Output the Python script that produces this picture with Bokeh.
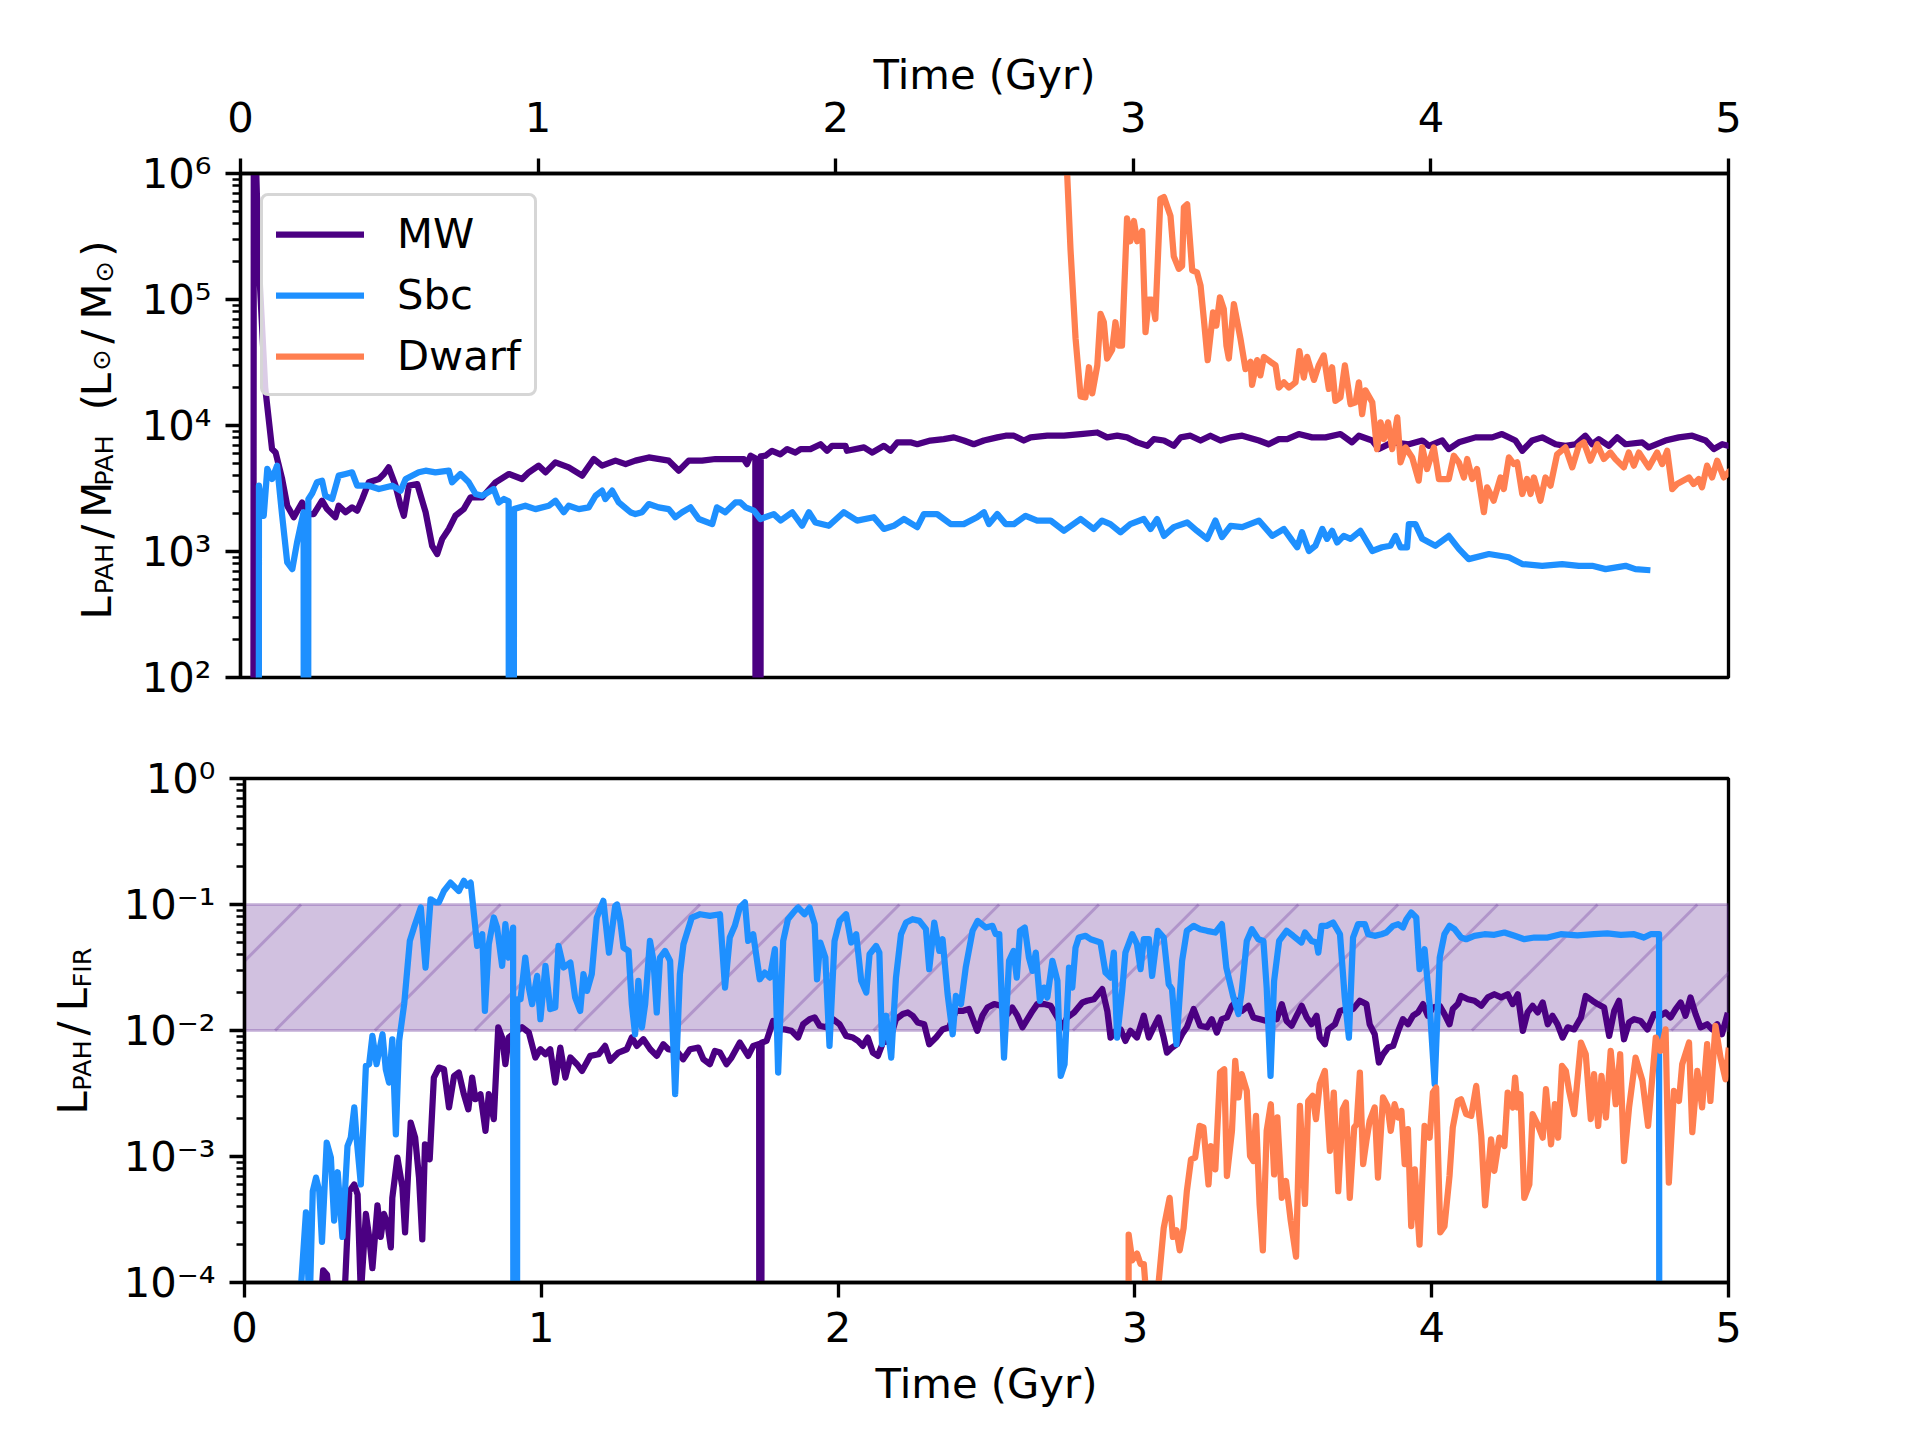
import math
from bokeh.plotting import figure
from bokeh.models import Range1d, FixedTicker, CustomJSTickFormatter, BoxAnnotation
from bokeh.layouts import column, row
from bokeh.embed import file_html
from bokeh.resources import INLINE
from bokeh.core.properties import value

# ---------------- data (time in Gyr, values) ----------------
series_names = ["MW", "Sbc", "Dwarf"]
ZERO = 1e-30  # snapshots where the quantity drops to zero (drawn off the bottom of the log axis)

# Top panel: L_PAH / M_PAH  (L_sun / M_sun)
mw_top = [
    (0.035, ZERO), (0.045, 3e7), (0.053, 1.0e6), (0.062, 1.85e5), (0.083, 2.0e4), (0.106, 6500),
    (0.118, 6100), (0.140, 3760), (0.157, 2310), (0.179, 1870), (0.207, 2450), (0.224, 1980),
    (0.246, 1980), (0.274, 2530), (0.291, 2170), (0.319, 1870), (0.330, 2310), (0.353, 2050),
    (0.375, 2240), (0.392, 2110), (0.409, 2610), (0.431, 3540), (0.465, 3760), (0.482, 4120),
    (0.498, 4650), (0.521, 3330), (0.538, 2310), (0.549, 1920), (0.566, 3330), (0.594, 3430),
    (0.622, 2050), (0.644, 1110), (0.661, 955), (0.678, 1260), (0.700, 1510), (0.722, 1920),
    (0.750, 2170), (0.773, 2690), (0.812, 2690), (0.857, 3540), (0.902, 4120), (0.946, 3760),
    (0.969, 4250), (1.002, 4800), (1.025, 4250), (1.058, 5100), (1.103, 4650), (1.148, 4000),
    (1.187, 5420), (1.215, 4800), (1.260, 5260), (1.294, 4940), (1.327, 5260), (1.372, 5580),
    (1.439, 5260), (1.473, 4380), (1.506, 5260), (1.551, 5260), (1.596, 5420), (1.663, 5420),
    (1.691, 5420), (1.702, 4940), (1.714, 5760), (1.730, 5500), (1.739, ZERO), (1.748, 5700),
    (1.764, 5760), (1.786, 6300), (1.814, 5900), (1.837, 6500), (1.865, 6100), (1.882, 6500),
    (1.915, 6500), (1.949, 7100), (1.971, 6300), (1.988, 6900), (2.033, 6900), (2.038, 6300),
    (2.095, 6700), (2.123, 6100), (2.162, 6900), (2.184, 6300), (2.207, 7350), (2.251, 7350),
    (2.274, 7100), (2.318, 7600), (2.363, 7800), (2.397, 8050), (2.430, 7600), (2.464, 7100),
    (2.498, 7600), (2.543, 8050), (2.571, 8300), (2.599, 8300), (2.632, 7600), (2.655, 8050),
    (2.711, 8300), (2.767, 8300), (2.823, 8550), (2.879, 8800), (2.912, 8050), (2.946, 8300),
    (2.979, 8050), (3.013, 7350), (3.047, 6900), (3.069, 7800), (3.103, 7600), (3.136, 6900),
    (3.159, 8050), (3.192, 8300), (3.226, 7600), (3.259, 8300), (3.293, 7600), (3.327, 8050),
    (3.366, 8300), (3.422, 7600), (3.455, 7100), (3.489, 7800), (3.517, 7800), (3.556, 8550),
    (3.601, 8050), (3.646, 8050), (3.696, 8550), (3.735, 7350), (3.758, 8300), (3.803, 7600),
    (3.825, 6500), (3.870, 7350), (3.926, 7100), (3.971, 7600), (3.993, 6900), (4.038, 7600),
    (4.060, 6500), (4.094, 7350), (4.150, 8050), (4.206, 8050), (4.239, 8550), (4.284, 7600),
    (4.307, 6300), (4.340, 7600), (4.374, 8050), (4.419, 7100), (4.452, 6900), (4.486, 7100),
    (4.519, 8300), (4.542, 7100), (4.564, 7800), (4.598, 6900), (4.626, 8050), (4.654, 7100),
    (4.710, 7350), (4.732, 6700), (4.788, 7600), (4.833, 8050), (4.878, 8300), (4.923, 7600),
    (4.951, 6500), (4.979, 7100), (5.000, 6900),
]

sbc_top = [
    (0.055, ZERO), (0.062, 3330), (0.078, 1920), (0.090, 4520), (0.106, 3760), (0.123, 4800),
    (0.140, 1920), (0.157, 820), (0.174, 725), (0.190, 1180), (0.212, 2050), (0.220, ZERO),
    (0.228, 2600), (0.241, 2900), (0.257, 3540), (0.274, 3650), (0.285, 2770), (0.308, 2610),
    (0.330, 4000), (0.353, 4120), (0.375, 4250), (0.392, 3330), (0.431, 3330), (0.465, 3130),
    (0.510, 3330), (0.538, 3040), (0.555, 3760), (0.599, 4250), (0.622, 4380), (0.655, 4250),
    (0.700, 4380), (0.711, 3540), (0.739, 4120), (0.767, 3540), (0.790, 2860), (0.812, 2770),
    (0.851, 3130), (0.868, 2450), (0.885, 2610), (0.901, 2500), (0.910, ZERO), (0.919, 2170),
    (0.957, 2310), (0.991, 2170), (1.036, 2310), (1.058, 2530), (1.086, 2050), (1.103, 2310),
    (1.137, 2170), (1.170, 2240), (1.193, 2770), (1.215, 3040), (1.226, 2610), (1.249, 3040),
    (1.271, 2450), (1.310, 2050), (1.327, 1980), (1.349, 2050), (1.372, 2380), (1.405, 2240),
    (1.439, 2170), (1.461, 1870), (1.484, 2050), (1.512, 2240), (1.540, 1810), (1.585, 1650),
    (1.601, 2240), (1.629, 2050), (1.663, 2450), (1.680, 2450), (1.697, 2240), (1.725, 2110),
    (1.747, 1810), (1.792, 1980), (1.815, 1760), (1.854, 2050), (1.887, 1600), (1.910, 2050),
    (1.932, 1700), (1.977, 1600), (2.027, 2050), (2.072, 1760), (2.128, 1870), (2.162, 1510),
    (2.195, 1600), (2.229, 1810), (2.274, 1560), (2.296, 1980), (2.341, 1980), (2.386, 1650),
    (2.430, 1650), (2.475, 1870), (2.498, 2050), (2.515, 1650), (2.543, 1980), (2.571, 1650),
    (2.599, 1650), (2.638, 1920), (2.677, 1760), (2.722, 1760), (2.767, 1460), (2.823, 1810),
    (2.867, 1510), (2.895, 1760), (2.923, 1650), (2.957, 1420), (2.990, 1650), (3.035, 1810),
    (3.058, 1510), (3.080, 1810), (3.103, 1330), (3.136, 1560), (3.181, 1700), (3.214, 1460),
    (3.248, 1260), (3.276, 1760), (3.298, 1300), (3.327, 1600), (3.366, 1560), (3.422, 1760),
    (3.467, 1330), (3.506, 1510), (3.534, 1220), (3.551, 1080), (3.567, 1420), (3.590, 1010),
    (3.612, 1110), (3.635, 1510), (3.651, 1260), (3.668, 1460), (3.685, 1180), (3.707, 1330),
    (3.730, 1260), (3.763, 1460), (3.803, 1010), (3.836, 1080), (3.864, 1110), (3.881, 1330),
    (3.898, 1080), (3.920, 1080), (3.926, 1650), (3.948, 1650), (3.971, 1260), (4.015, 1110),
    (4.060, 1330), (4.094, 1050), (4.127, 870), (4.195, 955), (4.262, 900), (4.307, 795),
    (4.374, 770), (4.441, 795), (4.497, 770), (4.542, 770), (4.587, 725), (4.654, 770),
    (4.687, 725), (4.727, 713),
]

dwarf_top = [
    (2.770, 3e6), (2.778, 9.6e5), (2.789, 2.5e5), (2.806, 4.9e4), (2.823, 1.7e4), (2.839, 1.67e4),
    (2.851, 2.9e4), (2.862, 1.8e4), (2.879, 3.0e4), (2.890, 7.7e4), (2.901, 6.6e4), (2.912, 3.4e4),
    (2.929, 4.0e4), (2.940, 6.6e4), (2.951, 4.3e4), (2.962, 4.3e4), (2.979, 4.4e5), (2.990, 2.9e5),
    (3.002, 4.2e5), (3.013, 2.9e5), (3.030, 3.5e5), (3.041, 5.5e4), (3.052, 1.0e5), (3.063, 1.0e5),
    (3.074, 7.0e4), (3.091, 6.3e5), (3.103, 6.5e5), (3.125, 4.6e5), (3.136, 2.2e5), (3.153, 1.75e5),
    (3.164, 1.85e5), (3.170, 5.4e5), (3.181, 5.7e5), (3.198, 1.7e5), (3.214, 1.64e5), (3.226, 1.29e5),
    (3.237, 7.0e4), (3.250, 3.3e4), (3.268, 7.9e4), (3.279, 6.2e4), (3.291, 1.04e5), (3.304, 8.4e4),
    (3.313, 4.3e4), (3.321, 3.4e4), (3.338, 9.2e4), (3.360, 4.9e4), (3.377, 2.8e4), (3.394, 3.2e4),
    (3.399, 2.1e4), (3.416, 3.3e4), (3.427, 2.5e4), (3.439, 3.5e4), (3.461, 3.2e4), (3.478, 3.0e4),
    (3.489, 2.0e4), (3.506, 2.2e4), (3.523, 2.0e4), (3.545, 2.2e4), (3.558, 3.9e4), (3.573, 2.4e4),
    (3.584, 3.5e4), (3.607, 2.3e4), (3.623, 3.0e4), (3.640, 3.6e4), (3.657, 1.95e4), (3.668, 2.9e4),
    (3.679, 1.57e4), (3.696, 1.67e4), (3.711, 3.0e4), (3.730, 1.48e4), (3.747, 1.53e4), (3.758, 2.2e4),
    (3.769, 1.23e4), (3.780, 1.9e4), (3.803, 1.53e4), (3.819, 6500), (3.831, 1.06e4), (3.842, 7800),
    (3.856, 1.06e4), (3.870, 6500), (3.887, 1.16e4), (3.898, 5100), (3.915, 6700), (3.937, 5580),
    (3.959, 3650), (3.971, 6700), (3.987, 4520), (4.010, 6700), (4.027, 3760), (4.060, 3760),
    (4.077, 5760), (4.094, 5100), (4.111, 3870), (4.122, 5420), (4.139, 3760), (4.155, 4520),
    (4.178, 2050), (4.189, 3230), (4.211, 2530), (4.234, 3870), (4.245, 3130), (4.262, 5580),
    (4.279, 4940), (4.290, 5100), (4.307, 2860), (4.323, 3760), (4.335, 2860), (4.346, 3870),
    (4.368, 2530), (4.385, 3870), (4.402, 3330), (4.424, 5900), (4.452, 6700), (4.475, 4650),
    (4.497, 6900), (4.514, 7350), (4.536, 5260), (4.559, 7100), (4.581, 5420), (4.603, 6100),
    (4.620, 5420), (4.648, 4650), (4.665, 6100), (4.682, 4800), (4.699, 6100), (4.732, 4650),
    (4.760, 6100), (4.777, 4940), (4.794, 6300), (4.811, 3130), (4.827, 3430), (4.867, 3870),
    (4.883, 3430), (4.900, 3760), (4.911, 3230), (4.928, 4800), (4.945, 3870), (4.962, 5260),
    (4.984, 3870), (5.000, 4250),
]

# Bottom panel: L_PAH / L_FIR
mw_bottom = [
    (0.255, 6e-5), (0.265, 1.25e-4), (0.278, 1.15e-4), (0.290, 6e-5), (0.335, 6e-5), (0.353, 5.3e-4),
    (0.370, 6.0e-4), (0.381, 5.0e-4), (0.392, 8e-5), (0.409, 3.5e-4), (0.420, 2.3e-4), (0.431, 1.3e-4),
    (0.448, 4.1e-4), (0.459, 2.3e-4), (0.470, 3.5e-4), (0.482, 2.9e-4), (0.493, 1.9e-4), (0.498, 4.7e-4),
    (0.515, 9.8e-4), (0.532, 5.7e-4), (0.541, 2.5e-4), (0.560, 1.86e-3), (0.575, 1.41e-3), (0.588, 6.8e-4),
    (0.599, 2.2e-4), (0.608, 1.25e-3), (0.624, 9.5e-4), (0.638, 4.23e-3), (0.655, 5.08e-3), (0.672, 4.93e-3),
    (0.689, 2.45e-3), (0.706, 4.36e-3), (0.722, 4.64e-3), (0.739, 3.12e-3), (0.754, 2.37e-3), (0.767, 4.23e-3),
    (0.778, 2.85e-3), (0.795, 3.12e-3), (0.812, 1.6e-3), (0.823, 3.12e-3), (0.840, 1.98e-3), (0.855, 1.06e-2),
    (0.868, 8.79e-3), (0.879, 5.4e-3), (0.890, 8.79e-3), (0.935, 1.06e-2), (0.958, 9.63e-3), (0.980, 6.1e-3),
    (0.997, 7.1e-3), (1.014, 6.48e-3), (1.030, 7.1e-3), (1.047, 3.86e-3), (1.064, 7.32e-3), (1.081, 4.23e-3),
    (1.098, 6.1e-3), (1.120, 5.4e-3), (1.137, 4.78e-3), (1.165, 6.29e-3), (1.193, 6.48e-3), (1.215, 7.55e-3),
    (1.232, 5.74e-3), (1.260, 6.68e-3), (1.288, 7.1e-3), (1.305, 8.79e-3), (1.322, 7.55e-3), (1.344, 8.52e-3),
    (1.367, 7.1e-3), (1.389, 6.29e-3), (1.411, 7.78e-3), (1.428, 7.1e-3), (1.456, 6.89e-3), (1.478, 5.91e-3),
    (1.501, 7.1e-3), (1.529, 7.32e-3), (1.546, 5.91e-3), (1.568, 5.4e-3), (1.585, 6.89e-3), (1.602, 6.68e-3),
    (1.624, 5.4e-3), (1.641, 6.1e-3), (1.669, 8.02e-3), (1.697, 6.29e-3), (1.714, 7.55e-3), (1.734, 7.8e-3),
    (1.738, ZERO), (1.742, 8.0e-3), (1.759, 8.27e-3), (1.781, 1.19e-2), (1.803, 1.02e-2), (1.820, 1.02e-2),
    (1.843, 9.93e-3), (1.865, 8.79e-3), (1.882, 1.12e-2), (1.904, 1.23e-2), (1.921, 1.27e-2), (1.938, 1.09e-2),
    (1.960, 1.06e-2), (1.983, 1.23e-2), (2.005, 1.12e-2), (2.027, 9.06e-3), (2.050, 8.79e-3), (2.067, 8.27e-3),
    (2.083, 7.55e-3), (2.100, 8.79e-3), (2.117, 6.68e-3), (2.134, 6.29e-3), (2.151, 8.02e-3), (2.173, 8.27e-3),
    (2.195, 1.23e-2), (2.218, 1.35e-2), (2.235, 1.39e-2), (2.251, 1.31e-2), (2.268, 1.16e-2), (2.290, 1.12e-2),
    (2.307, 7.78e-3), (2.330, 8.79e-3), (2.352, 1.02e-2), (2.374, 1.06e-2), (2.397, 1.43e-2), (2.419, 1.43e-2),
    (2.441, 1.48e-2), (2.469, 9.93e-3), (2.486, 1.31e-2), (2.503, 1.52e-2), (2.526, 1.62e-2), (2.548, 1.57e-2),
    (2.571, 1.35e-2), (2.587, 1.52e-2), (2.604, 1.31e-2), (2.621, 1.06e-2), (2.638, 1.23e-2), (2.655, 1.43e-2),
    (2.671, 1.62e-2), (2.694, 1.62e-2), (2.716, 1.57e-2), (2.739, 1.27e-2), (2.755, 1.06e-2), (2.772, 1.27e-2),
    (2.795, 1.39e-2), (2.823, 1.67e-2), (2.839, 1.72e-2), (2.862, 1.77e-2), (2.890, 2.13e-2), (2.907, 1.43e-2),
    (2.918, 8.79e-3), (2.935, 9.93e-3), (2.952, 1.02e-2), (2.968, 8.27e-3), (2.985, 9.93e-3), (3.007, 8.79e-3),
    (3.030, 1.31e-2), (3.047, 8.79e-3), (3.063, 1.06e-2), (3.080, 1.27e-2), (3.097, 8.79e-3), (3.108, 6.68e-3),
    (3.125, 7.32e-3), (3.142, 7.78e-3), (3.159, 9.34e-3), (3.175, 1.06e-2), (3.198, 1.48e-2), (3.220, 1.09e-2),
    (3.243, 1.06e-2), (3.259, 1.23e-2), (3.276, 9.63e-3), (3.293, 1.23e-2), (3.310, 1.27e-2), (3.327, 1.57e-2),
    (3.343, 1.72e-2), (3.360, 1.43e-2), (3.383, 1.57e-2), (3.399, 1.27e-2), (3.422, 1.23e-2), (3.444, 1.19e-2),
    (3.467, 1.35e-2), (3.478, 1.23e-2), (3.495, 1.62e-2), (3.511, 1.19e-2), (3.528, 1.09e-2), (3.545, 1.31e-2),
    (3.562, 1.57e-2), (3.579, 1.27e-2), (3.595, 1.12e-2), (3.612, 1.31e-2), (3.623, 8.79e-3), (3.640, 7.78e-3),
    (3.651, 1.02e-2), (3.674, 1.12e-2), (3.691, 1.43e-2), (3.713, 1.48e-2), (3.735, 1.48e-2), (3.758, 1.72e-2),
    (3.780, 1.62e-2), (3.791, 1.12e-2), (3.808, 9.34e-3), (3.822, 5.57e-3), (3.836, 6.48e-3), (3.853, 7.32e-3),
    (3.870, 7.55e-3), (3.887, 9.93e-3), (3.903, 1.23e-2), (3.920, 1.12e-2), (3.937, 1.31e-2), (3.954, 1.39e-2),
    (3.971, 1.62e-2), (3.987, 1.31e-2), (4.004, 1.52e-2), (4.027, 1.57e-2), (4.043, 1.35e-2), (4.060, 1.12e-2),
    (4.071, 1.48e-2), (4.088, 1.62e-2), (4.099, 1.88e-2), (4.122, 1.77e-2), (4.144, 1.72e-2), (4.167, 1.57e-2),
    (4.189, 1.83e-2), (4.211, 1.94e-2), (4.234, 1.83e-2), (4.256, 1.94e-2), (4.273, 1.62e-2), (4.290, 1.94e-2),
    (4.307, 9.93e-3), (4.323, 1.39e-2), (4.340, 1.57e-2), (4.357, 1.39e-2), (4.374, 1.67e-2), (4.391, 1.12e-2),
    (4.407, 1.31e-2), (4.424, 1.12e-2), (4.441, 8.79e-3), (4.458, 1.06e-2), (4.480, 1.02e-2), (4.503, 1.27e-2),
    (4.519, 1.88e-2), (4.542, 1.72e-2), (4.559, 1.62e-2), (4.581, 1.52e-2), (4.598, 9.06e-3), (4.615, 1.43e-2),
    (4.631, 1.72e-2), (4.648, 8.52e-3), (4.665, 1.16e-2), (4.682, 1.23e-2), (4.704, 1.19e-2), (4.727, 1.02e-2),
    (4.749, 1.35e-2), (4.771, 1.31e-2), (4.788, 1.39e-2), (4.805, 1.27e-2), (4.822, 1.48e-2), (4.839, 1.67e-2),
    (4.855, 1.31e-2), (4.872, 1.83e-2), (4.889, 1.35e-2), (4.906, 1.06e-2), (4.928, 1.12e-2), (4.945, 1.02e-2),
    (4.962, 1.12e-2), (4.978, 9.34e-3), (4.995, 1.31e-2),
]

sbc_bottom = [
    (0.185, 6e-5), (0.207, 3.6e-4), (0.219, 6e-5), (0.230, 5.3e-4), (0.241, 6.8e-4), (0.252, 5.3e-4),
    (0.261, 2.1e-4), (0.277, 1.29e-3), (0.291, 9.8e-4), (0.302, 3.1e-4), (0.314, 7.5e-4), (0.330, 2.3e-4),
    (0.347, 1.21e-3), (0.358, 1.41e-3), (0.370, 2.45e-3), (0.377, 1.46e-3), (0.392, 6.0e-4), (0.409, 5.24e-3),
    (0.420, 5.4e-3), (0.431, 9.06e-3), (0.445, 5.4e-3), (0.465, 9.34e-3), (0.476, 4.93e-3), (0.487, 3.86e-3),
    (0.498, 8.52e-3), (0.510, 1.5e-3), (0.521, 8.27e-3), (0.538, 1.62e-2), (0.557, 5.14e-2), (0.571, 6.56e-2),
    (0.594, 9.46e-2), (0.610, 3.16e-2), (0.627, 0.110), (0.644, 0.104), (0.655, 0.104), (0.672, 0.128),
    (0.694, 0.149), (0.722, 0.128), (0.739, 0.154), (0.750, 0.141), (0.762, 0.149), (0.784, 4.69e-2),
    (0.801, 5.81e-2), (0.810, 1.43e-2), (0.823, 4.84e-2), (0.840, 7.88e-2), (0.851, 6.56e-2), (0.868, 3.26e-2),
    (0.879, 6.98e-2), (0.890, 3.79e-2), (0.905, 6.56e-2), (0.912, ZERO), (0.919, 1.77e-2), (0.930, 1.77e-2),
    (0.946, 3.79e-2), (0.958, 2.19e-2), (0.969, 1.62e-2), (0.986, 2.71e-2), (0.997, 1.23e-2), (1.014, 3.26e-2),
    (1.030, 1.48e-2), (1.047, 1.52e-2), (1.058, 4.69e-2), (1.075, 3.16e-2), (1.098, 3.46e-2), (1.114, 1.83e-2),
    (1.131, 1.43e-2), (1.142, 2.80e-2), (1.154, 2.06e-2), (1.170, 2.80e-2), (1.187, 7.88e-2), (1.209, 0.107),
    (1.228, 4.15e-2), (1.249, 9.75e-2), (1.255, 0.100), (1.266, 7.41e-2), (1.277, 4.55e-2), (1.294, 4.28e-2),
    (1.305, 1.62e-2), (1.316, 9.34e-3), (1.327, 2.48e-2), (1.339, 1.06e-2), (1.350, 1.62e-2), (1.366, 5.14e-2),
    (1.378, 3.57e-2), (1.389, 1.39e-2), (1.400, 3.79e-2), (1.417, 4.28e-2), (1.434, 3.57e-2), (1.451, 3.12e-3),
    (1.467, 2.80e-2), (1.479, 4.84e-2), (1.507, 7.88e-2), (1.535, 8.37e-2), (1.568, 8.12e-2), (1.602, 8.37e-2),
    (1.619, 2.19e-2), (1.635, 5.47e-2), (1.652, 6.77e-2), (1.669, 9.46e-2), (1.686, 0.104), (1.697, 5.14e-2),
    (1.714, 5.81e-2), (1.736, 2.55e-2), (1.753, 2.88e-2), (1.770, 2.63e-2), (1.787, 4.42e-2), (1.798, 4.64e-3),
    (1.815, 5.14e-2), (1.831, 7.64e-2), (1.854, 8.90e-2), (1.865, 9.46e-2), (1.887, 8.37e-2), (1.904, 9.46e-2),
    (1.921, 6.98e-2), (1.929, 2.55e-2), (1.940, 4.99e-2), (1.957, 3.79e-2), (1.971, 7.55e-3), (1.988, 5.14e-2),
    (2.005, 7.41e-2), (2.027, 8.37e-2), (2.044, 4.99e-2), (2.061, 5.81e-2), (2.078, 2.48e-2), (2.095, 2.00e-2),
    (2.106, 4.03e-2), (2.128, 4.69e-2), (2.139, 4.15e-2), (2.148, 7.78e-3), (2.162, 1.31e-2), (2.179, 6.10e-3),
    (2.195, 2.63e-2), (2.212, 5.81e-2), (2.229, 7.19e-2), (2.251, 7.64e-2), (2.274, 7.41e-2), (2.296, 6.37e-2),
    (2.307, 3.07e-2), (2.324, 7.19e-2), (2.341, 4.28e-2), (2.352, 5.30e-2), (2.369, 1.94e-2), (2.386, 9.34e-3),
    (2.397, 1.88e-2), (2.414, 1.62e-2), (2.430, 3.16e-2), (2.453, 6.18e-2), (2.470, 7.41e-2), (2.498, 6.56e-2),
    (2.520, 6.77e-2), (2.531, 5.81e-2), (2.543, 5.81e-2), (2.559, 6.10e-3), (2.576, 3.57e-2), (2.591, 4.28e-2),
    (2.602, 2.63e-2), (2.613, 6.18e-2), (2.629, 6.56e-2), (2.643, 3.79e-2), (2.655, 2.97e-2), (2.666, 4.15e-2),
    (2.680, 1.72e-2), (2.694, 2.19e-2), (2.705, 1.83e-2), (2.722, 3.57e-2), (2.739, 2.48e-2), (2.750, 4.36e-3),
    (2.763, 5.40e-3), (2.778, 3.16e-2), (2.789, 2.19e-2), (2.800, 4.55e-2), (2.811, 5.47e-2), (2.834, 5.64e-2),
    (2.851, 5.30e-2), (2.884, 4.99e-2), (2.901, 2.88e-2), (2.918, 2.63e-2), (2.929, 4.15e-2), (2.940, 8.79e-3),
    (2.957, 2.06e-2), (2.968, 4.15e-2), (2.991, 5.81e-2), (3.007, 4.84e-2), (3.019, 3.07e-2), (3.030, 5.30e-2),
    (3.047, 5.30e-2), (3.058, 2.71e-2), (3.077, 6.18e-2), (3.097, 5.47e-2), (3.114, 2.33e-2), (3.125, 2.13e-2),
    (3.140, 7.78e-3), (3.159, 3.57e-2), (3.175, 6.18e-2), (3.198, 6.77e-2), (3.220, 6.37e-2), (3.243, 6.18e-2),
    (3.271, 5.99e-2), (3.293, 6.98e-2), (3.308, 3.16e-2), (3.332, 1.83e-2), (3.349, 1.35e-2), (3.360, 2.06e-2),
    (3.377, 5.14e-2), (3.394, 6.37e-2), (3.416, 5.30e-2), (3.433, 5.14e-2), (3.444, 2.19e-2), (3.457, 4.36e-3),
    (3.469, 2.48e-2), (3.486, 5.14e-2), (3.511, 6.18e-2), (3.533, 5.64e-2), (3.561, 4.99e-2), (3.573, 5.99e-2),
    (3.595, 5.14e-2), (3.612, 4.99e-2), (3.618, 4.15e-2), (3.629, 6.77e-2), (3.646, 6.77e-2), (3.668, 7.19e-2),
    (3.691, 5.81e-2), (3.707, 1.83e-2), (3.721, 8.79e-3), (3.735, 5.47e-2), (3.752, 6.98e-2), (3.775, 6.98e-2),
    (3.786, 5.81e-2), (3.808, 5.64e-2), (3.831, 5.81e-2), (3.847, 5.99e-2), (3.870, 6.77e-2), (3.887, 6.98e-2),
    (3.903, 6.56e-2), (3.915, 7.64e-2), (3.931, 8.63e-2), (3.948, 7.88e-2), (3.959, 3.07e-2), (3.976, 4.42e-2),
    (3.993, 1.62e-2), (4.010, 3.75e-3), (4.027, 3.79e-2), (4.043, 5.81e-2), (4.060, 6.77e-2), (4.077, 6.37e-2),
    (4.099, 5.47e-2), (4.116, 5.30e-2), (4.144, 5.64e-2), (4.178, 5.81e-2), (4.211, 5.75e-2), (4.245, 5.99e-2),
    (4.279, 5.64e-2), (4.312, 5.30e-2), (4.346, 5.47e-2), (4.391, 5.47e-2), (4.435, 5.81e-2), (4.491, 5.70e-2),
    (4.547, 5.81e-2), (4.592, 5.90e-2), (4.637, 5.75e-2), (4.682, 5.81e-2), (4.715, 5.47e-2), (4.738, 5.81e-2),
    (4.766, 5.81e-2), (4.772, ZERO),
]

dwarf_bottom = [
    (2.968, ZERO), (2.979, 2.4e-4), (2.991, 1.5e-4), (3.007, 1.7e-4), (3.019, 1.4e-4), (3.030, 1.4e-4),
    (3.045, 5e-5), (3.068, 5e-5), (3.097, 2.7e-4), (3.117, 4.7e-4), (3.128, 2.3e-4), (3.140, 2.6e-4),
    (3.151, 1.8e-4), (3.164, 2.7e-4), (3.175, 5.3e-4), (3.189, 9.5e-4), (3.203, 9.8e-4), (3.218, 1.75e-3),
    (3.231, 1.70e-3), (3.248, 6.0e-4), (3.256, 1.21e-3), (3.271, 7.9e-4), (3.287, 4.64e-3), (3.301, 4.93e-3),
    (3.310, 7.0e-4), (3.327, 1.6e-3), (3.338, 5.74e-3), (3.349, 2.94e-3), (3.360, 4.5e-3), (3.377, 3.32e-3),
    (3.388, 1.01e-3), (3.399, 9.2e-4), (3.408, 2.1e-3), (3.420, 4.2e-4), (3.431, 1.8e-4), (3.444, 1.6e-3),
    (3.458, 2.6e-3), (3.469, 7.2e-4), (3.480, 2.04e-3), (3.495, 4.7e-4), (3.509, 6.4e-4), (3.525, 3.1e-4),
    (3.543, 1.6e-4), (3.556, 2.52e-3), (3.573, 4.2e-4), (3.584, 2.76e-3), (3.599, 3.03e-3), (3.610, 1.98e-3),
    (3.623, 3.75e-3), (3.640, 4.78e-3), (3.657, 1.11e-3), (3.670, 3.22e-3), (3.685, 5.3e-4), (3.700, 2.37e-3),
    (3.711, 2.68e-3), (3.724, 4.7e-4), (3.739, 1.70e-3), (3.747, 1.80e-3), (3.758, 4.64e-3), (3.769, 8.7e-4),
    (3.780, 1.33e-3), (3.791, 1.92e-3), (3.808, 2.45e-3), (3.819, 6.8e-4), (3.836, 2.94e-3), (3.851, 2.52e-3),
    (3.862, 1.6e-3), (3.875, 2.6e-3), (3.887, 2.04e-3), (3.898, 2.3e-3), (3.909, 8.7e-4), (3.920, 1.65e-3),
    (3.931, 2.8e-4), (3.943, 7.9e-4), (3.959, 2.0e-4), (3.976, 1.75e-3), (3.993, 1.41e-3), (4.004, 3.22e-3),
    (4.015, 3.52e-3), (4.029, 2.5e-4), (4.043, 2.8e-4), (4.060, 7.0e-4), (4.071, 1.70e-3), (4.088, 2.76e-3),
    (4.099, 2.85e-3), (4.116, 2.17e-3), (4.133, 2.1e-3), (4.150, 3.63e-3), (4.167, 1.46e-3), (4.180, 4.1e-4),
    (4.200, 1.37e-3), (4.211, 7.7e-4), (4.228, 1.41e-3), (4.245, 1.21e-3), (4.256, 3.22e-3), (4.273, 2.45e-3),
    (4.281, 4.23e-3), (4.290, 2.45e-3), (4.299, 3.12e-3), (4.312, 4.7e-4), (4.329, 6.0e-4), (4.340, 2.17e-3),
    (4.357, 1.8e-3), (4.374, 1.41e-3), (4.385, 3.42e-3), (4.402, 1.25e-3), (4.415, 2.6e-3), (4.426, 1.41e-3),
    (4.439, 5.24e-3), (4.452, 4.78e-3), (4.463, 3.32e-3), (4.480, 2.17e-3), (4.503, 8.02e-3), (4.519, 6.48e-3),
    (4.536, 1.98e-3), (4.547, 4.5e-3), (4.561, 1.75e-3), (4.572, 4.36e-3), (4.587, 2.04e-3), (4.603, 6.89e-3),
    (4.620, 2.6e-3), (4.635, 6.48e-3), (4.648, 9.2e-4), (4.665, 2.45e-3), (4.687, 6.1e-3), (4.710, 4.0e-3),
    (4.729, 1.75e-3), (4.755, 8.79e-3), (4.771, 6.89e-3), (4.788, 1.02e-2), (4.799, 6.2e-4), (4.816, 3.32e-3),
    (4.833, 2.76e-3), (4.844, 5.4e-3), (4.867, 8.02e-3), (4.878, 1.56e-3), (4.895, 4.78e-3), (4.911, 2.45e-3),
    (4.928, 7.78e-3), (4.939, 2.76e-3), (4.956, 1.09e-2), (4.973, 6.1e-3), (4.990, 4.1e-3), (5.000, 6.9e-3),
]

x_ticks = [0, 1, 2, 3, 4, 5]
band_low, band_high = 1e-2, 1e-1
top_decades = [2, 3, 4, 5, 6]
bottom_decades = [-4, -3, -2, -1, 0]

colors = {"MW": "#4B0082", "Sbc": "#1E90FF", "Dwarf": "#FF7F50"}

# ---------------- styling constants ----------------
FONT = "DejaVu Sans"
FS = "41.7px"
SUB = "25.5px"
LW = 6.25
SPINE = 3.33
LAB_W = 120          # width of the strip holding the rotated y-axis titles
MAIN_W = 1784
LEFT, RIGHT = 120, 176
FRAME_W, FRAME_H = 1488, 504
H1, H2 = 727, 697
TOP1, BOT1 = 173, 50
TOP2, BOT2 = 51, 142
PX_PER_GYR = FRAME_W / 5.0
PX_PER_DEC = FRAME_H / 4.0
HATCH_STEP_PX = 100.0
HATCH_PHASE_PX = 56.7
BASE_SHIFT = 0.38    # em; the renderer places rotated text this far past the requested baseline

SUPER = CustomJSTickFormatter(code="""
const sup = {"-":"\u207b","0":"\u2070","1":"\u00b9","2":"\u00b2","3":"\u00b3","4":"\u2074","5":"\u2075","6":"\u2076","7":"\u2077","8":"\u2078","9":"\u2079"};
const e = Math.round(Math.log10(tick));
return "10" + String(e).split("").map(c => sup[c]).join("");
""")


def make_fig(height, top, bottom, ylo, yhi, xloc):
    p = figure(width=MAIN_W, height=height, x_range=Range1d(0, 5), y_range=Range1d(ylo, yhi),
               y_axis_type="log", x_axis_location=xloc, output_backend="svg",
               toolbar_location=None, min_border_left=LEFT, min_border_right=RIGHT,
               min_border_top=top, min_border_bottom=bottom)
    p.grid.visible = False
    p.background_fill_color = "white"
    p.border_fill_color = "white"
    p.outline_line_color = "black"
    p.outline_line_width = SPINE
    p.outline_line_alpha = 1.0
    return p


def style_axes(p, decades, xlabel_standoff, xtick_standoff):
    for ax in p.xaxis:
        ax.ticker = FixedTicker(ticks=x_ticks, minor_ticks=[])
        ax.axis_label = "Time (Gyr)"
    for ax in p.yaxis:
        ax.ticker = FixedTicker(ticks=[10.0 ** d for d in decades],
                                minor_ticks=[m * 10.0 ** d for d in decades[:-1] for m in range(2, 10)])
        ax.formatter = SUPER
        ax.axis_label = None
    for ax in list(p.xaxis) + list(p.yaxis):
        ax.axis_line_width = SPINE
        ax.axis_line_color = "black"
        ax.major_tick_in = 0
        ax.major_tick_out = 15
        ax.major_tick_line_width = SPINE
        ax.major_tick_line_color = "black"
        ax.minor_tick_in = 0
        ax.minor_tick_out = 8
        ax.minor_tick_line_width = 2.5
        ax.minor_tick_line_color = "black"
        ax.major_label_text_font = FONT
        ax.major_label_text_font_size = FS
        ax.major_label_text_color = "black"
        ax.major_label_standoff = 14
        ax.axis_label_text_font = FONT
        ax.axis_label_text_font_size = FS
        ax.axis_label_text_font_style = "normal"
        ax.axis_label_text_color = "black"
    for ax in p.xaxis:
        ax.major_label_standoff = xtick_standoff
        ax.axis_label_standoff = xlabel_standoff


def title_strip(height, top, bottom, y_offset, parts):
    """Narrow figure holding a rotated, sub-scripted axis title.
    Its frame has the same top/bottom borders as the neighbouring plot; the y range is given in
    page pixels (downwards) so the title parts can be placed by pixel position."""
    f = figure(width=LAB_W, height=height, x_range=Range1d(0, LAB_W),
               y_range=Range1d(y_offset + height - bottom, y_offset + top),
               x_axis_type=None, y_axis_type=None, output_backend="svg", toolbar_location=None,
               min_border_left=0, min_border_right=0, min_border_top=top, min_border_bottom=bottom)
    f.grid.visible = False
    f.outline_line_color = None
    f.background_fill_color = "white"
    f.border_fill_color = "white"
    for text, x, y, size in parts:
        px = float(size.replace("px", ""))
        f.text(x=[x - BASE_SHIFT * px], y=[y], text=[text], angle=math.pi / 2, text_align="left",
               text_baseline="alphabetic", text_font=value(FONT), text_font_size=value(size),
               text_color="black")
    return f


# ---------------- top panel ----------------
p1 = make_fig(H1, TOP1, BOT1, 1e2, 1e6, "above")
style_axes(p1, top_decades, xlabel_standoff=0, xtick_standoff=27)
for name, data in zip(series_names, [mw_top, sbc_top, dwarf_top]):
    t = [d[0] for d in data]
    v = [d[1] for d in data]
    p1.line(t, v, line_color=colors[name], line_width=LW, line_join="round",
            line_cap="square", legend_label=name)

leg = p1.legend[0]
leg.location = "top_left"
leg.margin = 20
leg.padding = 13
leg.spacing = 12
leg.glyph_width = 88
leg.glyph_height = 48
leg.label_height = 48
leg.label_standoff = 33
leg.label_text_font = FONT
leg.label_text_font_size = FS
leg.label_text_color = "black"
leg.border_line_color = "#d6d6d6"
leg.border_line_width = 3.5
leg.border_line_alpha = 1.0
leg.background_fill_color = "white"
leg.background_fill_alpha = 0.8
try:
    leg.border_radius = 8
except Exception:
    pass

lab1 = title_strip(H1, TOP1, BOT1, 0, [
    ("L", 111.7, 619.0, FS), ("PAH", 113.5, 593.7, SUB), ("/", 111.7, 538.3, FS),
    ("M", 111.7, 517.3, FS), ("PAH", 113.5, 485.3, SUB), ("(", 111.7, 409.7, FS),
    ("L", 111.7, 395.7, FS), ("\u2299", 110.0, 370.3, SUB), ("/", 111.7, 343.3, FS),
    ("M", 111.7, 319.0, FS), ("\u2299", 113.5, 282.0, SUB), (")", 111.7, 256.3, FS),
])

# ---------------- bottom panel ----------------
p2 = make_fig(H2, TOP2, BOT2, 1e-4, 1e0, "below")
style_axes(p2, bottom_decades, xlabel_standoff=14, xtick_standoff=14)
p2.add_layout(BoxAnnotation(bottom=band_low, top=band_high, fill_color="rebeccapurple",
                            fill_alpha=0.3, line_color="rebeccapurple", line_alpha=0.3,
                            line_width=3, level="underlay"))
# 45-degree hatch of the band, one line every 100 px
band_dx = (math.log10(band_high) - math.log10(band_low)) * PX_PER_DEC / PX_PER_GYR
hx1 = [(HATCH_PHASE_PX + HATCH_STEP_PX * k) / PX_PER_GYR for k in range(-2, 18)]
hx0 = [x - band_dx for x in hx1]
p2.segment(x0=hx0, y0=[band_low] * len(hx0), x1=hx1, y1=[band_high] * len(hx1),
           line_color="rebeccapurple", line_alpha=0.3, line_width=3)
for name, data in zip(series_names, [mw_bottom, sbc_bottom, dwarf_bottom]):
    t = [d[0] for d in data]
    v = [d[1] for d in data]
    p2.line(t, v, line_color=colors[name], line_width=LW, line_join="round", line_cap="square")

lab2 = title_strip(H2, TOP2, BOT2, H1, [
    ("L", 88.3, 1114.0, FS), ("PAH", 91.0, 1090.3, SUB), ("/", 88.3, 1035.0, FS),
    ("L", 88.3, 1010.7, FS), ("FIR", 91.0, 987.0, SUB),
])

layout = column(row(lab1, p1, spacing=0), row(lab2, p2, spacing=0), spacing=0)
open("out.html", "w").write(file_html(layout, INLINE))
